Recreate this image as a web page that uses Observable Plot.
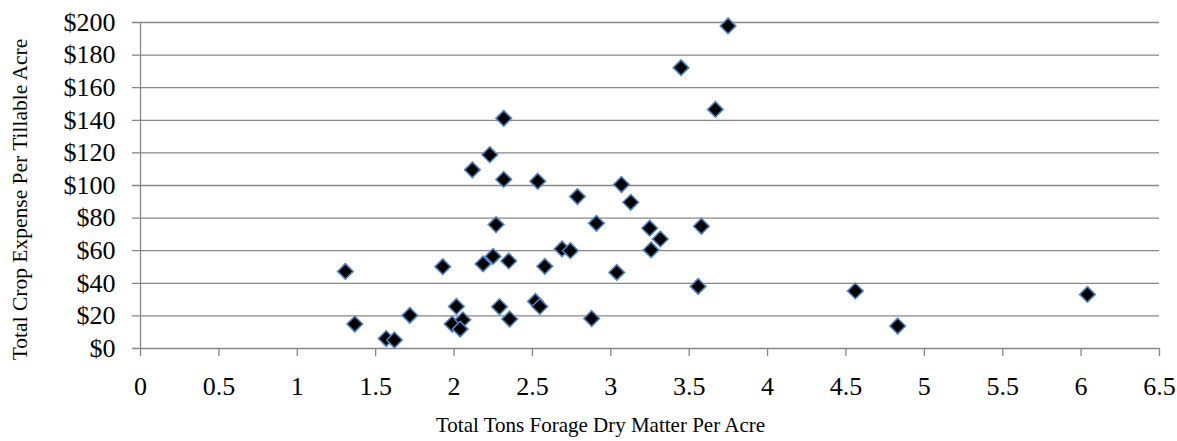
<!DOCTYPE html>
<html>
<head>
<meta charset="utf-8">
<script src="https://cdn.jsdelivr.net/npm/d3@7"></script>
<script src="https://cdn.jsdelivr.net/npm/@observablehq/plot@0.6"></script>
<style>
  html, body { margin: 0; padding: 0; background: #ffffff; }
  #chart { width: 1177px; height: 441px; }
</style>
</head>
<body>
<div id="chart"></div>
<script>
// Total tons forage dry matter per acre (x) and total crop expense per tillable acre (y)
const forageTons = [
  1.307, 1.367, 1.567, 1.620, 1.718, 1.928, 2.015, 1.988, 2.056, 2.039,
  2.117, 2.228, 2.185, 2.249, 2.268, 2.317, 2.317, 2.349, 2.290, 2.355,
  2.534, 2.579, 2.519, 2.547, 2.787, 2.689, 2.742, 2.908, 2.878, 3.068,
  3.127, 3.038, 3.248, 3.316, 3.257, 3.448, 3.667, 3.748, 3.578, 3.557,
  4.560, 4.830, 6.040
];
const cropExpense = [
  47.3, 15.0, 6.1, 5.2, 20.3, 50.2, 25.8, 15.0, 17.6, 11.9,
  109.6, 118.9, 51.9, 56.5, 76.0, 141.2, 103.7, 53.7, 25.6, 18.1,
  102.6, 50.4, 28.9, 25.8, 93.2, 61.1, 60.0, 76.8, 18.4, 100.6,
  89.7, 46.7, 73.8, 67.2, 60.5, 172.3, 146.7, 197.9, 75.0, 38.1,
  35.3, 13.8, 33.2
];
const xTicks = [0, 0.5, 1, 1.5, 2, 2.5, 3, 3.5, 4, 4.5, 5, 5.5, 6, 6.5];
const yTicks = [0, 20, 40, 60, 80, 100, 120, 140, 160, 180, 200];
const xTitle = "Total Tons Forage Dry Matter Per Acre";
const yTitle = "Total Crop Expense Per Tillable Acre";

const points = forageTons.map((x, i) => ({x, y: cropExpense[i]}));
const grey = "#878787";
const font = "'Liberation Serif', 'Times New Roman', serif";

const chart = Plot.plot({
  width: 1177,
  height: 441,
  marginLeft: 140,
  marginRight: 18,
  marginTop: 22,
  marginBottom: 93,
  style: {fontFamily: font, background: "#ffffff", color: "#000000", overflow: "visible"},
  x: {domain: [0, 6.5]},
  y: {domain: [0, 200]},
  marks: [
    Plot.ruleY(yTicks, {y: d => d, stroke: grey, strokeWidth: 1.3, insetLeft: -8}),
    Plot.ruleX([0], {stroke: grey, strokeWidth: 1.3}),
    Plot.axisY({ticks: yTicks, tickFormat: d => "$" + d, tickSize: 0, tickPadding: 25,
      fontSize: 26, label: null, stroke: grey, fill: "#000000"}),
    Plot.axisX({ticks: xTicks, tickFormat: d => String(d), tickSize: 8, tickPadding: 20,
      fontSize: 26, label: null, stroke: grey, strokeWidth: 1.3, fill: "#000000"}),
    Plot.dot(points, {x: "x", y: "y", symbol: "diamond2", r: 7, fill: "#000000",
      stroke: "#4f81bd", strokeWidth: 1.6}),
    Plot.text([xTitle], {text: d => d, frameAnchor: "bottom", dx: -49.5, dy: 77,
      fontSize: 21, lineAnchor: "middle", textAnchor: "middle", fill: "#000000"}),
    Plot.text([yTitle], {text: d => d, frameAnchor: "left", rotate: -90, dx: -120, dy: 14,
      fontSize: 21.5, lineAnchor: "middle", textAnchor: "middle", fill: "#000000"})
  ]
});
document.getElementById("chart").appendChild(chart);
</script>
</body>
</html>
